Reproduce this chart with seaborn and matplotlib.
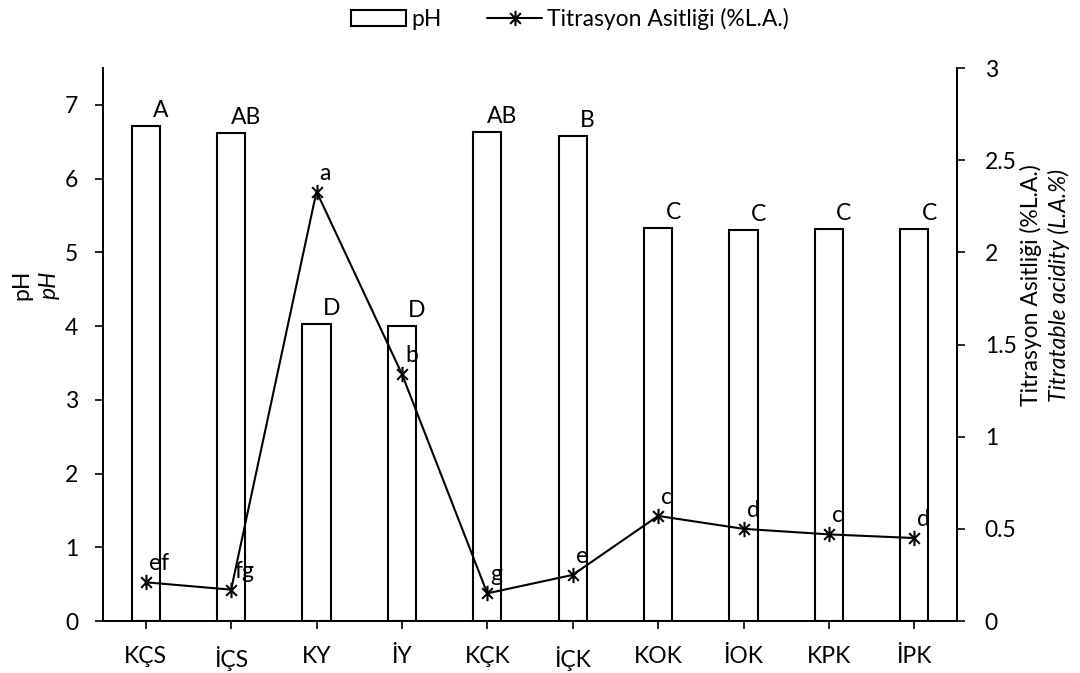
import matplotlib
matplotlib.use("Agg")
import matplotlib.pyplot as plt
import seaborn as sns
import pandas as pd
from matplotlib.patches import Patch
from matplotlib.lines import Line2D
from matplotlib.path import Path

categories = ["KÇS", "İÇS", "KY", "İY", "KÇK", "İÇK", "KOK", "İOK", "KPK", "İPK"]
ph_values = [6.72, 6.62, 4.03, 4.00, 6.63, 6.58, 5.33, 5.30, 5.32, 5.31]
ph_letters = ["A", "AB", "D", "D", "AB", "B", "C", "C", "C", "C"]
ta_values = [0.21, 0.17, 2.33, 1.34, 0.15, 0.25, 0.57, 0.50, 0.47, 0.45]
ta_letters = ["ef", "fg", "a", "b", "g", "e", "c", "d", "c", "d"]

sns.set_style("white")
plt.rcParams["font.family"] = ["Lato", "DejaVu Sans"]
plt.rcParams["text.color"] = "black"
plt.rcParams["axes.labelcolor"] = "black"
plt.rcParams["xtick.color"] = "black"
plt.rcParams["ytick.color"] = "black"
FS = 16.5

# asterisk marker: X plus vertical bar
star = Path([(-0.7, -0.7), (0.7, 0.7), (-0.7, 0.7), (0.7, -0.7), (0, -1), (0, 1)],
            [Path.MOVETO, Path.LINETO, Path.MOVETO, Path.LINETO, Path.MOVETO, Path.LINETO])

df = pd.DataFrame({"cat": categories, "ph": ph_values, "ta": ta_values})

fig = plt.figure(figsize=(10.8, 6.73), dpi=100)
ax = fig.add_axes([103 / 1080, 1 - 621 / 673, (957 - 103) / 1080, (621 - 68) / 673])

sns.barplot(data=df, x="cat", y="ph", ax=ax, width=0.33, fill=False,
            color="black", linewidth=1.5, errorbar=None, order=categories)
for p in ax.patches:
    p.set_edgecolor("black")
    p.set_facecolor("white")
    p.set_fill(True)

ax.set_ylim(0, 7.5)
ax.set_xlim(-0.5, 9.5)
ax.set_yticks(range(0, 8))
ax.set_xlabel("")
ax.set_ylabel("")
ax.spines["top"].set_visible(False)
for s in ["left", "bottom", "right"]:
    ax.spines[s].set_color("black")
    ax.spines[s].set_linewidth(1.3)
ax.tick_params(axis="both", direction="out", length=6, width=1.2, color="black",
               labelsize=FS, labelcolor="black", left=True, bottom=True)
ax.tick_params(axis="y", pad=12)
ax.tick_params(axis="x", pad=12)

for i, (v, t) in enumerate(zip(ph_values, ph_letters)):
    ax.annotate(t, (i, v), xytext=(15, 5), textcoords="offset pixels",
                ha="center", va="bottom", fontsize=FS, color="black")

ax2 = ax.twinx()
sns.lineplot(data=df, x="cat", y="ta", ax=ax2, color="black", linewidth=1.5,
             marker=star, markersize=11, markeredgewidth=1.5,
             markeredgecolor="black", markerfacecolor="none", sort=False)
ax2.set_ylim(0, 3)
ax2.set_yticks([0, 0.5, 1, 1.5, 2, 2.5, 3])
ax2.set_yticklabels(["0", "0.5", "1", "1.5", "2", "2.5", "3"])
ax2.set_xlim(-0.5, 9.5)
ax2.set_xlabel("")
ax2.set_ylabel("")
ax2.spines["top"].set_visible(False)
for s in ["left", "bottom", "right"]:
    ax2.spines[s].set_color("black")
    ax2.spines[s].set_linewidth(1.3)
ax2.tick_params(axis="y", direction="out", length=6, width=1.2, color="black",
                labelsize=FS, labelcolor="black", right=True, pad=14)

for i, (v, t) in enumerate(zip(ta_values, ta_letters)):
    ax2.annotate(t, (i, v), xytext=(3, 8), textcoords="offset pixels",
                 ha="left", va="bottom", fontsize=FS, color="black")

# axis titles
YC = 1 - 285 / 673
fig.text(22 / 1080, YC, "pH", rotation=90, ha="center", va="center", fontsize=FS)
fig.text(49 / 1080, YC, "pH", rotation=90, ha="center", va="center",
         fontsize=FS, style="italic")
fig.text(1031 / 1080, YC, "Titrasyon Asitliği (%L.A.)", rotation=90,
         ha="center", va="center", fontsize=FS)
fig.text(1059 / 1080, YC, "Titratable acidity (L.A.%)", rotation=90,
         ha="center", va="center", fontsize=FS, style="italic")

handles = [Patch(facecolor="white", edgecolor="black", linewidth=1.5, label="pH"),
           Line2D([0], [0], color="black", linewidth=1.5, marker=star,
                  markersize=11, markeredgewidth=1.5, markerfacecolor="none",
                  label="Titrasyon Asitliği (%L.A.)")]
fig.legend(handles=handles, loc="center", bbox_to_anchor=(570 / 1080, 1 - 19 / 673),
           ncol=2, frameon=False, fontsize=FS, handlelength=2.4, columnspacing=2.0,
           handletextpad=0.2)

fig.savefig("out.png", dpi=100)
